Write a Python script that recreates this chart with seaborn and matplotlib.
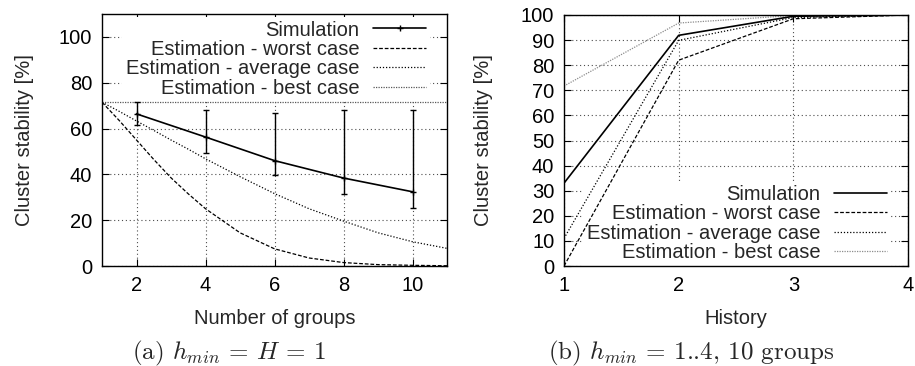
import numpy as np
import pandas as pd
import seaborn as sns
import matplotlib
matplotlib.use("Agg")
import matplotlib.pyplot as plt

# left panel: h_min = H = 1
groups_sim = [2, 4, 6, 8, 10]
sim_a = [66.4, 56.3, 46.0, 38.4, 32.4]
sim_a_hi = [71.5, 68.1, 66.7, 68.3, 68.3]
sim_a_lo = [61.6, 49.5, 39.7, 31.3, 25.5]

groups_est = [1, 1.5, 2, 2.5, 3, 3.5, 4, 5, 6, 7, 8, 9, 10, 11]
worst_a = [71.5, 63.5, 55.0, 46.5, 38.5, 31.5, 25.0, 14.5, 7.5, 3.5, 1.5, 0.6, 0.3, 0.1]
avg_a = [71.5, 67.5, 63.3, 59.2, 55.0, 51.0, 46.8, 39.0, 31.6, 25.0, 19.6, 14.5, 10.6, 7.7]
best_a = [71.5] * 14

# right panel: h_min = 1..4, 10 groups
history = [1, 2, 3, 4]
sim_b = [33.0, 91.9, 99.5, 100.0]
worst_b = [0.0, 82.0, 98.5, 100.0]
avg_b = [11.0, 89.9, 99.0, 100.0]
best_b = [71.7, 96.8, 99.8, 100.0]

labels = ["Simulation", "Estimation - worst case",
          "Estimation - average case", "Estimation - best case"]

sns.set_style("ticks")
plt.rcParams["font.family"] = ["Liberation Sans", "DejaVu Sans"]
plt.rcParams["mathtext.fontset"] = "cm"
fs = 14.5

fig = plt.figure(figsize=(9.15, 3.66), dpi=100)
ax1 = fig.add_axes([102 / 915, 100 / 366, 345 / 915, 252 / 366])
ax2 = fig.add_axes([564 / 915, 100 / 366, 344 / 915, 251 / 366])

worst_ls = (0, (3, 1.5))
avg_ls = (0, (1, 1.5))
best_ls = (0, (1, 1))
grid_kw = dict(color="0.3", linestyle=(0, (1, 2.5)), linewidth=0.8)
leg_kw = dict(markerfirst=False, fontsize=fs, handlelength=2.6, handletextpad=0.7,
              labelspacing=0.02, borderpad=0.2, borderaxespad=0, frameon=True,
              fancybox=False)

# ---- left
df_sim = pd.DataFrame({"x": groups_sim, "y": sim_a})
df_est = pd.DataFrame({"x": groups_est, "worst": worst_a, "avg": avg_a, "best": best_a})

yerr = [np.array(sim_a) - np.array(sim_a_lo), np.array(sim_a_hi) - np.array(sim_a)]
ax1.errorbar(groups_sim, sim_a, yerr=yerr, fmt="none", ecolor="black",
             elinewidth=1.0, capsize=2.5, capthick=1.0, zorder=3)
sns.lineplot(data=df_sim, x="x", y="y", ax=ax1, color="black", linewidth=1.2,
             marker="+", markersize=5, markeredgewidth=1, markeredgecolor="black",
             label=labels[0], zorder=4)
sns.lineplot(data=df_est, x="x", y="worst", ax=ax1, color="black", linewidth=0.9,
             linestyle=worst_ls, label=labels[1])
sns.lineplot(data=df_est, x="x", y="avg", ax=ax1, color="black", linewidth=0.9,
             linestyle=avg_ls, label=labels[2])
sns.lineplot(data=df_est, x="x", y="best", ax=ax1, color="0.35", linewidth=0.9,
             linestyle=best_ls, label=labels[3])

ax1.set_xlim(1, 11)
ax1.set_ylim(0, 110)
ax1.set_xticks([2, 4, 6, 8, 10])
ax1.set_yticks([0, 20, 40, 60, 80, 100])
ax1.set_xlabel("Number of groups", fontsize=fs, labelpad=10)
ax1.set_ylabel("Cluster stability [%]", fontsize=fs, labelpad=18)
leg1 = ax1.legend(loc="upper right", bbox_to_anchor=(0.95, 0.99), **leg_kw)

# ---- right
df_b = pd.DataFrame({"x": history, "sim": sim_b, "worst": worst_b, "avg": avg_b, "best": best_b})
sns.lineplot(data=df_b, x="x", y="sim", ax=ax2, color="black", linewidth=1.2, label=labels[0], zorder=4)
sns.lineplot(data=df_b, x="x", y="worst", ax=ax2, color="black", linewidth=0.9,
             linestyle=worst_ls, label=labels[1])
sns.lineplot(data=df_b, x="x", y="avg", ax=ax2, color="black", linewidth=0.9,
             linestyle=avg_ls, label=labels[2])
sns.lineplot(data=df_b, x="x", y="best", ax=ax2, color="0.55", linewidth=0.9,
             linestyle=best_ls, label=labels[3])

ax2.set_xlim(1, 4)
ax2.set_ylim(0, 100)
ax2.set_xticks([1, 2, 3, 4])
ax2.set_yticks(range(0, 101, 10))
ax2.set_xlabel("History", fontsize=fs, labelpad=10)
ax2.set_ylabel("Cluster stability [%]", fontsize=fs, labelpad=20)
leg2 = ax2.legend(loc="lower right", bbox_to_anchor=(0.95, 0.0), **leg_kw)

for ax, leg in ((ax1, leg1), (ax2, leg2)):
    ax.grid(True, **grid_kw)
    ax.set_axisbelow(True)
    fr = leg.get_frame()
    fr.set_facecolor("white")
    fr.set_edgecolor("none")
    fr.set_alpha(1)
    leg.set_zorder(1.5)  # hides the grid, not the curves
    for sp in ax.spines.values():
        sp.set_visible(True)
        sp.set_color("black")
        sp.set_linewidth(1.0)
        sp.set_zorder(5)
    ax.tick_params(direction="in", length=5, width=0.8, top=True, right=True,
                   labelsize=fs, pad=7, colors="black")

fig.text(229 / 915, 1 - 353 / 366, r"(a) $h_{min}$ = $H$ = 1",
         ha="center", va="center", fontsize=18, family="cmr10")
fig.text(691 / 915, 1 - 353 / 366, r"(b) $h_{min}$ = 1..4, 10 groups",
         ha="center", va="center", fontsize=18, family="cmr10")

fig.savefig("out.png", dpi=100, facecolor="white")
